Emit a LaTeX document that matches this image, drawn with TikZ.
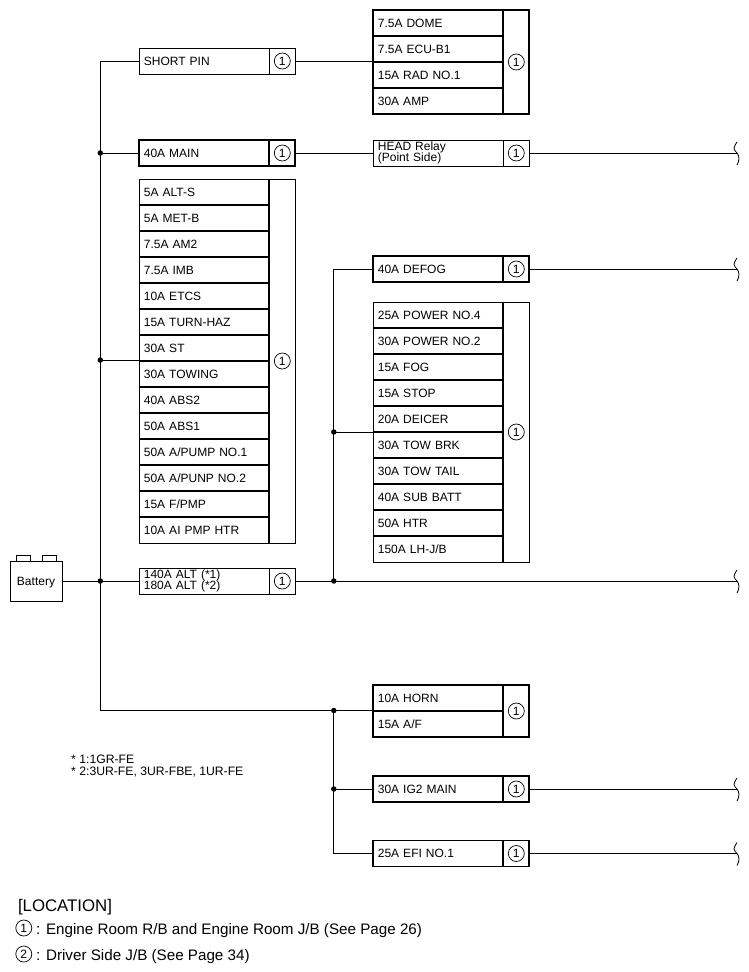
\documentclass[tikz,border=0pt]{standalone}
\usepackage{fontspec}
\setmainfont{Liberation Sans}
\usetikzlibrary{positioning}
\tikzset{
  fuse/.style={rectangle, draw=black, line width=1.9pt, outer sep=0pt, inner xsep=4.6pt, inner ysep=0pt, minimum width=130pt, minimum height=26pt, text width=120.8pt, align=left, text height=8.3pt, text depth=0pt, font=\fontsize{12}{12}\selectfont},
  thinfuse/.style={fuse, line width=0.8pt},
  lastfuse/.style={thinfuse, append after command={(\tikzlastnode.north east) edge [line width=1.9pt] (\tikzlastnode.south east)}},
  sepfuse/.style={lastfuse, append after command={(\tikzlastnode.south west) edge [line width=1.9pt] (\tikzlastnode.south east)}},
  twofuse/.style={thinfuse, text height=, text depth=, font=\fontsize{12}{13.5}\selectfont},
  numcell/.style={rectangle, draw=black, line width=1.9pt, outer sep=0pt, inner sep=0pt, minimum width=26pt, minimum height=26pt},
  thinnum/.style={numcell, line width=0.8pt},
  cnum/.style={circle, draw=black, line width=0.7pt, inner sep=0pt, minimum size=16pt, font=\fontsize{12}{12}\selectfont},
  dot/.style={circle, fill=black, inner sep=0pt, minimum size=5.5pt},
  wire/.style={line width=0.9pt},
  note/.style={inner sep=0pt, anchor=west, font=\fontsize{12.2}{12.2}\selectfont},
  legend/.style={inner sep=0pt, anchor=west, text height=11pt, text depth=0pt, font=\fontsize{15.2}{15.2}\selectfont},
  breakend/.pic={\draw [line width=0.8pt] (0,-11) .. controls (-2,-8) and (-3,-6) .. (-3,-4.5) .. controls (-3,-2.5) and (-1,-1.5) .. (0,0) .. controls (1,1.5) and (2,3) .. (2,5.5) .. controls (2,8) and (1,10) .. (0,12);}
}

\begin{document}
\begin{tikzpicture}[x=1pt,y=-1pt]
  \useasboundingbox (0.7,0) rectangle (749.7,972);

  % === left column ===
  \node (shortpin) [thinfuse, anchor=north west] at (140,48) {SHORT PIN};
  \node (numshort) [thinnum, right=0pt of shortpin] {};
  \node (cshort) [cnum] at (numshort) {1};

  \node (mainfuse) [fuse, anchor=north west] at (140,140) {40A MAIN};
  \node (nummain) [numcell, right=0pt of mainfuse] {};
  \node (cmain) [cnum] at (nummain) {1};

  \node (alts) [sepfuse, anchor=north west] at (140,179) {5A ALT-S};
  \node (metb) [sepfuse, below=0pt of alts] {5A MET-B};
  \node (amtwo) [sepfuse, below=0pt of metb] {7.5A AM2};
  \node (imb) [sepfuse, below=0pt of amtwo] {7.5A IMB};
  \node (etcs) [sepfuse, below=0pt of imb] {10A ETCS};
  \node (turnhaz) [sepfuse, below=0pt of etcs] {15A TURN-HAZ};
  \node (st) [sepfuse, below=0pt of turnhaz] {30A ST};
  \node (towing) [sepfuse, below=0pt of st] {30A TOWING};
  \node (abstwo) [sepfuse, below=0pt of towing] {40A ABS2};
  \node (absone) [sepfuse, below=0pt of abstwo] {50A ABS1};
  \node (apumpone) [sepfuse, below=0pt of absone] {50A A/PUMP NO.1};
  \node (apumptwo) [sepfuse, below=0pt of apumpone] {50A A/PUNP NO.2};
  \node (fpmp) [sepfuse, below=0pt of apumptwo] {15A F/PMP};
  \node (aipmp) [lastfuse, below=0pt of fpmp] {10A AI PMP HTR};
  \node (numleft) [thinnum, minimum height=364pt, anchor=north west] at (alts.north east) {};
  \node (cleft) [cnum] at (numleft) {1};

  \node (alt) [twofuse, anchor=north west] at (140,568) {140A ALT (*1)\\[-2.4pt]180A ALT (*2)};
  \node (numalt) [thinnum, right=0pt of alt] {};
  \node (calt) [cnum] at (numalt) {1};

  \node (battery) [rectangle, draw=black, line width=0.8pt, outer sep=0pt, inner sep=0pt, minimum width=52pt, minimum height=40pt, text height=8.8pt, text depth=0pt, font=\fontsize{12}{12}\selectfont, anchor=north west] at (10.7,561) {Battery};
  \node (termleft) [rectangle, draw=black, line width=0.8pt, outer sep=0pt, inner sep=0pt, minimum width=14pt, minimum height=6pt, anchor=south west] at (16.7,561) {};
  \node (termright) [rectangle, draw=black, line width=0.8pt, outer sep=0pt, inner sep=0pt, minimum width=14pt, minimum height=6pt, anchor=south west] at (42.7,561) {};

  % === right column ===
  \node (dome) [fuse, anchor=north west] at (374,10) {7.5A DOME};
  \node (ecub) [fuse, below=0pt of dome] {7.5A ECU-B1};
  \node (rad) [fuse, below=0pt of ecub] {15A RAD NO.1};
  \node (amp) [fuse, below=0pt of rad] {30A AMP};
  \node (numtop) [numcell, minimum height=104pt, anchor=north west] at (dome.north east) {};
  \node (ctop) [cnum] at (numtop) {1};

  \node (head) [twofuse, anchor=north west] at (374,140) {HEAD Relay\\[-2.4pt](Point Side)};
  \node (numhead) [thinnum, right=0pt of head] {};
  \node (chead) [cnum] at (numhead) {1};

  \node (defog) [fuse, anchor=north west] at (374,256) {40A DEFOG};
  \node (numdefog) [numcell, right=0pt of defog] {};
  \node (cdefog) [cnum] at (numdefog) {1};

  \node (powerfour) [sepfuse, anchor=north west] at (374,302) {25A POWER NO.4};
  \node (powertwo) [sepfuse, below=0pt of powerfour] {30A POWER NO.2};
  \node (fog) [sepfuse, below=0pt of powertwo] {15A FOG};
  \node (stop) [sepfuse, below=0pt of fog] {15A STOP};
  \node (deicer) [sepfuse, below=0pt of stop] {20A DEICER};
  \node (towbrk) [sepfuse, below=0pt of deicer] {30A TOW BRK};
  \node (towtail) [sepfuse, below=0pt of towbrk] {30A TOW TAIL};
  \node (subbatt) [sepfuse, below=0pt of towtail] {40A SUB BATT};
  \node (htr) [sepfuse, below=0pt of subbatt] {50A HTR};
  \node (lhjb) [lastfuse, below=0pt of htr] {150A LH-J/B};
  \node (numpower) [thinnum, minimum height=260pt, anchor=north west] at (powerfour.north east) {};
  \node (cpower) [cnum] at (numpower) {1};

  \node (horn) [fuse, anchor=north west] at (374,685) {10A HORN};
  \node (af) [fuse, below=0pt of horn] {15A A/F};
  \node (numhorn) [numcell, minimum height=52pt, anchor=north west] at (horn.north east) {};
  \node (chorn) [cnum] at (numhorn) {1};

  \node (igtwo) [fuse, anchor=north west] at (374,776) {30A IG2 MAIN};
  \node (numig) [numcell, right=0pt of igtwo] {};
  \node (cig) [cnum] at (numig) {1};

  \node (efi) [fuse, anchor=north west] at (374,840.5) {25A EFI NO.1};
  \node (numefi) [numcell, right=0pt of efi] {};
  \node (cefi) [cnum] at (numefi) {1};

  % === junctions ===
  \coordinate (busshort) at (101,61);
  \coordinate (buslow) at (101,710.5);
  \node (dotmain) [dot] at (101,153) {};
  \node (dotleft) [dot] at (101,360) {};
  \node (dotbatt) [dot] at (101,581) {};
  \node (dotalt) [dot] at (334.5,581) {};
  \node (dotpower) [dot] at (334.5,432) {};
  \node (dothorn) [dot] at (334.5,710.5) {};
  \node (dotig) [dot] at (334.5,789) {};
  \coordinate (riserdefog) at (334.5,269);
  \coordinate (riserefi) at (334.5,853.5);
  \coordinate (endhead) at (737.7,153);
  \coordinate (enddefog) at (737.7,269);
  \coordinate (endalt) at (737.7,581);
  \coordinate (endig) at (737.7,789);
  \coordinate (endefi) at (737.7,853.5);

  % === wires ===
  \draw [wire] (shortpin.west) -- (busshort) -- (buslow) -- (dothorn.center) -- (horn.west |- dothorn);
  \draw [wire] (dotmain.center) -- (mainfuse.west);
  \draw [wire] (dotleft.center) -- (alts.west |- dotleft);
  \draw [wire] (battery.east) -- (alt.west);
  \draw [wire] (numshort.east) -- (dome.west |- numshort);
  \draw [wire] (nummain.east) -- (head.west);
  \draw [wire] (numalt.east) -- (endalt);
  \draw [wire] (numhead.east) -- (endhead);
  \draw [wire] (numdefog.east) -- (enddefog);
  \draw [wire] (numig.east) -- (endig);
  \draw [wire] (numefi.east) -- (endefi);
  \draw [wire] (dotalt.center) -- (riserdefog) -- (defog.west);
  \draw [wire] (dotpower.center) -- (deicer.south west);
  \draw [wire] (dothorn.center) -- (riserefi) -- (efi.west);
  \draw [wire] (dotig.center) -- (igtwo.west);
  \pic at (endhead) {breakend};
  \pic at (enddefog) {breakend};
  \pic at (endalt) {breakend};
  \pic at (endig) {breakend};
  \pic at (endefi) {breakend};

  % === notes ===
  \node (noteone) [note] at (71.7,759.5) {* 1:1GR-FE};
  \node (notetwo) [note] at (71.7,772.5) {* 2:3UR-FE, 3UR-FBE, 1UR-FE};
  \node (location) [legend, font=\fontsize{16.8}{16.8}\selectfont] at (18.5,906) {[LOCATION]};
  \node (legone) [cnum] at (24.5,928) {1};
  \node (legonetext) [legend] at (36.7,928.5) {: Engine Room R/B and Engine Room J/B (See Page 26)};
  \node (legtwo) [cnum] at (24.5,954) {2};
  \node (legtwotext) [legend] at (36.7,954.5) {: Driver Side J/B (See Page 34)};
\end{tikzpicture}
\end{document}
